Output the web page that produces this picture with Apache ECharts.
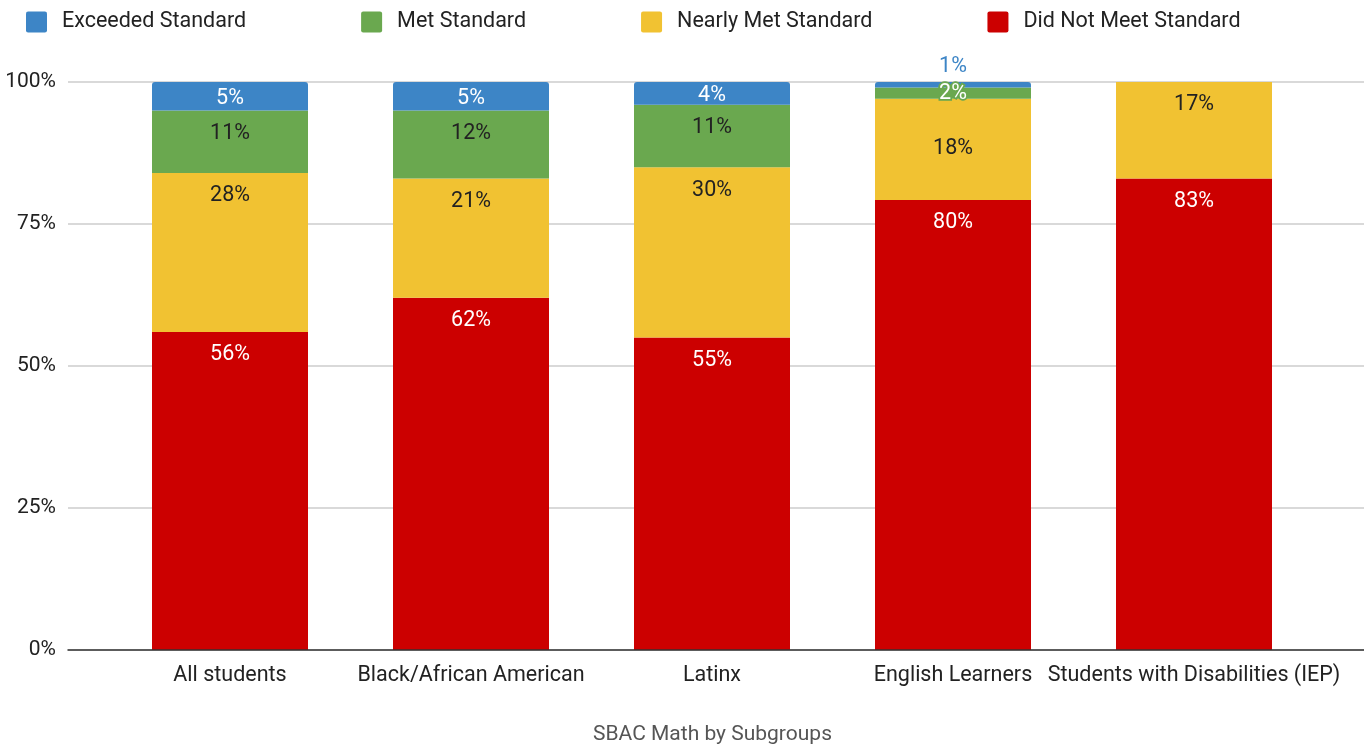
<!DOCTYPE html>
<html>
<head>
<meta charset="utf-8">
<style>
  html, body { margin: 0; padding: 0; background: #fff; }
  #chart { width: 1364px; height: 744px; }
</style>
<script src="https://cdn.jsdelivr.net/npm/echarts@6/dist/echarts.min.js"></script>
</head>
<body>
<div id="chart"></div>
<script>
// SBAC Math results by student subgroup (percent of students per achievement level)
const categories = ['All students', 'Black/African American', 'Latinx', 'English Learners', 'Students with Disabilities (IEP)'];
const exceeded  = [5, 5, 4, 1, 0];
const met       = [11, 12, 11, 2, 0];
const nearlyMet = [28, 21, 30, 18, 17];
const notMet    = [56, 62, 55, 80, 83];
const yTicks = [0, 25, 50, 75, 100];

const levelNames = ['Exceeded Standard', 'Met Standard', 'Nearly Met Standard', 'Did Not Meet Standard'];
const colors = { exceeded: '#3d85c6', met: '#6aa84f', nearly: '#f1c232', notMet: '#cc0000' };

// Each bar is stacked to 100%: shares are scaled by the row total
const totals = categories.map((_, i) => exceeded[i] + met[i] + nearlyMet[i] + notMet[i]);
const share = (arr) => arr.map((v, i) => ({ value: v / totals[i] * 100, raw: v }));

const FONT = 'Roboto';
const FS = 21.5;

function buildSeries(name, arr, color, baseLabel, extra) {
  const data = share(arr).map((d, i) => {
    const item = { value: d.value, raw: d.raw };
    if (extra && extra[i]) item.label = extra[i];
    return item;
  });
  return {
    name: name,
    type: 'bar',
    stack: 'total',
    xAxisIndex: 1,
    yAxisIndex: 1,
    barWidth: 156,
    itemStyle: Object.assign({ color: color }, baseLabel.itemStyle || {}),
    label: Object.assign({
      show: true,
      fontFamily: FONT,
      fontSize: FS,
      formatter: (p) => p.data.raw ? p.data.raw + '%' : ''
    }, baseLabel.label),
    emphasis: { disabled: true },
    data: data
  };
}

const series = [
  buildSeries(levelNames[3], notMet, colors.notMet,
    { label: { position: 'insideTop', distance: 12, color: '#ffffff' } }),
  buildSeries(levelNames[2], nearlyMet, colors.nearly,
    { label: { position: 'insideTop', distance: 12, color: '#222222' } },
    { 3: { position: 'insideTop', distance: 39 } }),
  buildSeries(levelNames[1], met, colors.met,
    { label: { position: 'insideTop', distance: 12, color: '#222222' } },
    { 3: { position: 'inside', color: '#ffffff', textBorderColor: colors.met, textBorderWidth: 3.5 } }),
  buildSeries(levelNames[0], exceeded, colors.exceeded,
    { label: { position: 'inside', color: '#ffffff', offset: [0, 2] }, itemStyle: { borderRadius: [3, 3, 0, 0] } },
    { 3: { position: 'top', distance: 4, offset: [0, 0], color: colors.exceeded } })
];

const chart = echarts.init(document.getElementById('chart'), null, { renderer: 'canvas' });
chart.setOption({
  animation: false,
  textStyle: { fontFamily: FONT },
  title: {
    text: 'SBAC Math by Subgroups',
    left: 593,
    top: 724,
    padding: 0,
    textStyle: { fontFamily: FONT, fontSize: 21, fontWeight: 'normal', color: '#555555' }
  },
  legend: {
    data: levelNames,
    left: 26,
    top: 11,
    padding: 0,
    icon: 'path://M2,0H18A2,2,0,0,1,20,2V18A2,2,0,0,1,18,20H2A2,2,0,0,1,0,18V2A2,2,0,0,1,2,0Z',
    itemWidth: 21,
    itemHeight: 21,
    itemGap: 115,
    selectedMode: false,
    textStyle: { fontFamily: FONT, fontSize: FS, color: '#222222', padding: [2, 0, 0, 10] }
  },
  grid: [
    // frame with gridlines and the baseline, spanning the full width
    { left: 68, right: 0, top: 82, bottom: 94 },
    // area holding the category bands
    { left: 109.5, right: 49.5, top: 82, bottom: 94 }
  ],
  xAxis: [
    {
      gridIndex: 0, type: 'value', min: 0, max: 1, z: 5,
      axisLine: { show: true, lineStyle: { color: '#333333', width: 1.5 } },
      axisTick: { show: false }, axisLabel: { show: false }, splitLine: { show: false }
    },
    {
      gridIndex: 1, type: 'category', data: categories,
      axisLine: { show: false }, axisTick: { show: false },
      axisLabel: { fontFamily: FONT, fontSize: FS, color: '#222222', margin: 15, interval: 0 }
    }
  ],
  yAxis: [
    {
      gridIndex: 0, type: 'value', min: yTicks[0], max: yTicks[yTicks.length - 1], interval: 25,
      axisLine: { show: false }, axisTick: { show: false },
      axisLabel: { fontFamily: FONT, fontSize: 21, color: '#222222', margin: 12, formatter: '{value}%' },
      splitLine: { show: true, lineStyle: { color: '#cccccc', width: 1.5 } }
    },
    {
      gridIndex: 1, type: 'value', min: 0, max: 100, show: false,
      splitLine: { show: false }
    }
  ],
  series: series
});
</script>
</body>
</html>
